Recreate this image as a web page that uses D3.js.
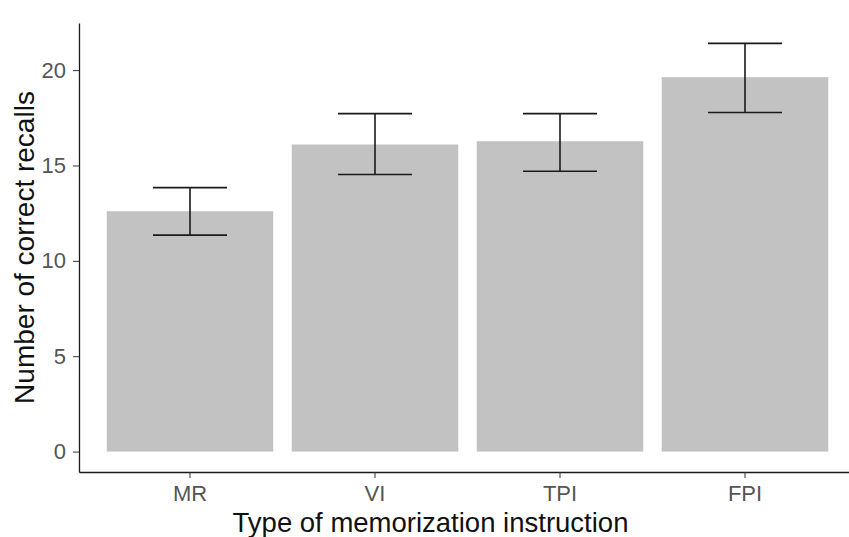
<!DOCTYPE html>
<html>
<head>
<meta charset="utf-8">
<script src="https://cdn.jsdelivr.net/npm/d3@7"></script>
<style>
  html, body { margin: 0; padding: 0; background: #fff; }
  svg { display: block; font-family: "Liberation Sans", Arial, sans-serif; }
</style>
</head>
<body>
<svg id="chart" width="849" height="537"></svg>
<script>
// Data
const categories = ["MR", "VI", "TPI", "FPI"];
const means = [12.6, 16.1, 16.27, 19.63];
const lower = [11.35, 14.53, 14.7, 17.78];
const upper = [13.84, 17.72, 17.72, 21.4];
const yTicks = [0, 5, 10, 15, 20];
const xTitle = "Type of memorization instruction";
const yTitle = "Number of correct recalls";

const svg = d3.select("#chart");

// Panel geometry (ggplot-like)
const panel = { left: 79, right: 856, top: 23, bottom: 472 };

const yMax = d3.max(upper);
const yPad = yMax * 0.05;
const y = d3.scaleLinear()
  .domain([0 - yPad, yMax + yPad])
  .range([panel.bottom, panel.top]);

const x = d3.scaleBand()
  .domain(categories)
  .range([panel.left, panel.right])
  .paddingInner(0.1)
  .paddingOuter(0.15);

const step = x.step();

// Bars
svg.append("g").selectAll("rect")
  .data(categories)
  .join("rect")
  .attr("x", d => x(d))
  .attr("width", x.bandwidth())
  .attr("y", (d, i) => y(means[i]))
  .attr("height", (d, i) => y(0) - y(means[i]))
  .attr("fill", "#c2c2c2");

// Error bars
const eb = svg.append("g")
  .attr("stroke", "#1a1a1a")
  .attr("stroke-width", 1.6)
  .attr("fill", "none");
categories.forEach((c, i) => {
  const cx = x(c) + x.bandwidth() / 2;
  const hw = step * 0.2;
  eb.append("line").attr("x1", cx).attr("x2", cx).attr("y1", y(upper[i])).attr("y2", y(lower[i]));
  eb.append("line").attr("x1", cx - hw).attr("x2", cx + hw).attr("y1", y(upper[i])).attr("y2", y(upper[i]));
  eb.append("line").attr("x1", cx - hw).attr("x2", cx + hw).attr("y1", y(lower[i])).attr("y2", y(lower[i]));
});

// Y axis
const yAxis = d3.axisLeft(y).tickValues(yTicks).tickSize(6).tickPadding(7).tickSizeOuter(0);
const gy = svg.append("g").attr("transform", `translate(${panel.left},0)`).call(yAxis);
gy.select(".domain").attr("stroke", "#1a1a1a").attr("stroke-width", 1.3);
gy.selectAll(".tick line").attr("stroke", "#333").attr("stroke-width", 1);
gy.selectAll(".tick text").attr("fill", "#555").attr("font-size", 22)
  .attr("font-family", "Liberation Sans, Arial, sans-serif");

// X axis
const xAxis = d3.axisBottom(x).tickSize(6).tickPadding(7).tickSizeOuter(0);
const gx = svg.append("g").attr("transform", `translate(0,${panel.bottom})`).call(xAxis);
gx.select(".domain").attr("stroke", "#1a1a1a").attr("stroke-width", 1.3);
gx.selectAll(".tick line").attr("stroke", "#333").attr("stroke-width", 1);
gx.selectAll(".tick text").attr("fill", "#555").attr("font-size", 22)
  .attr("font-family", "Liberation Sans, Arial, sans-serif");

// Axis titles
svg.append("text")
  .attr("x", (panel.left + 856) / 2 - 37)
  .attr("y", 532)
  .attr("text-anchor", "middle")
  .attr("font-size", 27.5)
  .attr("fill", "#111")
  .text(xTitle);

svg.append("text")
  .attr("transform", `translate(34,${(panel.top + panel.bottom) / 2}) rotate(-90)`)
  .attr("text-anchor", "middle")
  .attr("font-size", 28)
  .attr("fill", "#111")
  .text(yTitle);
</script>
</body>
</html>
